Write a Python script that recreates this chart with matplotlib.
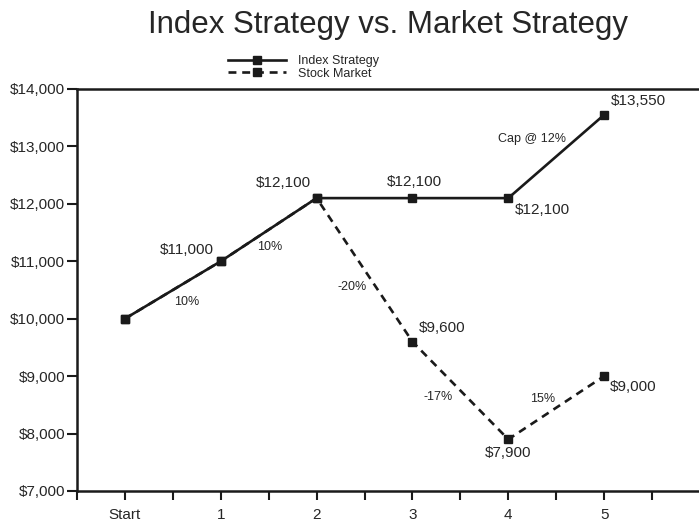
import numpy as np
import matplotlib
matplotlib.use('Agg')
import matplotlib.pyplot as plt
from matplotlib.ticker import FuncFormatter

# Data
years = ['Start', '1', '2', '3', '4', '5']
index_values = [10000, 11000, 12100, 12100, 12100, 13550]
market_values = [10000, 11000, 12100, 9600, 7900, 9000]
index_returns = ['10%', '10%', '', '', 'Cap @ 12%']
market_returns = ['', '', '-20%', '-17%', '15%']

# Label placement (offset in pixels from the point / segment midpoint)
index_label_offsets = {1: (-34, 11), 2: (-33, 15), 3: (2, 16), 4: (34, -12), 5: (34, 14)}
market_label_offsets = {3: (30, 14), 4: (0, -14), 5: (29, -11)}
index_return_offsets = {0: (14, -12), 1: (1, -17), 4: (-24, 17)}
market_return_offsets = {2: (-12, -17), 3: (-22, -7), 4: (-14, 9)}

plt.rcParams['font.family'] = ['Liberation Sans', 'DejaVu Sans']
ink = '#1a1a1a'
text_col = '#262626'


def money(v, pos=None):
    return f'${v:,.0f}'


def main():
    fig = plt.figure(figsize=(6.99, 5.27), dpi=100)
    ax = fig.add_axes([77 / 699, 36 / 527, 622 / 699, 402 / 527])

    x = np.arange(len(years))

    # Market first so the solid index line covers the shared part
    ax.plot(x, market_values, color=ink, lw=1.9, ls=(0, (3, 2.2)),
            marker='s', ms=6, mfc=ink, mec=ink, label='Stock Market', zorder=2)
    ax.plot(x, index_values, color=ink, lw=1.9, marker='s', ms=6,
            mfc=ink, mec=ink, label='Index Strategy', zorder=3)

    # Point value labels
    for i, (dx, dy) in index_label_offsets.items():
        ax.annotate(money(index_values[i]), (x[i], index_values[i]),
                    xytext=(dx, dy), textcoords='offset pixels',
                    ha='center', va='center', fontsize=11, color=text_col)
    for i, (dx, dy) in market_label_offsets.items():
        ax.annotate(money(market_values[i]), (x[i], market_values[i]),
                    xytext=(dx, dy), textcoords='offset pixels',
                    ha='center', va='center', fontsize=11, color=text_col)

    # Segment return labels
    for i, (dx, dy) in index_return_offsets.items():
        mid = ((x[i] + x[i + 1]) / 2, (index_values[i] + index_values[i + 1]) / 2)
        ax.annotate(index_returns[i], mid, xytext=(dx, dy),
                    textcoords='offset pixels', ha='center', va='center',
                    fontsize=9, color=text_col)
    for i, (dx, dy) in market_return_offsets.items():
        mid = ((x[i] + x[i + 1]) / 2, (market_values[i] + market_values[i + 1]) / 2)
        ax.annotate(market_returns[i], mid, xytext=(dx, dy),
                    textcoords='offset pixels', ha='center', va='center',
                    fontsize=9, color=text_col)

    # Axes
    ax.set_xlim(-0.5, 5.99)
    ax.set_ylim(7000, 14000)
    ticks = np.arange(-0.5, 5.6, 0.5)
    ax.set_xticks(ticks)
    ax.set_xticklabels([years[int(t)] if t % 1 == 0 else '' for t in ticks])
    ax.set_yticks(np.arange(7000, 14001, 1000))
    ax.yaxis.set_major_formatter(FuncFormatter(money))
    ax.tick_params(axis='x', length=6.5, width=1.5, pad=6, labelsize=11,
                   colors=ink, labelcolor=text_col)
    ax.tick_params(axis='y', length=7, width=1.5, pad=1.5, labelsize=11,
                   colors=ink, labelcolor=text_col)
    for side in ['left', 'bottom', 'top']:
        ax.spines[side].set_linewidth(1.8)
        ax.spines[side].set_color(ink)
    ax.spines['right'].set_visible(False)

    # Title and legend
    fig.text(388 / 699, 1 - 33 / 527, 'Index Strategy vs. Market Strategy',
             ha='center', va='baseline', fontsize=22.5, color=text_col)

    handles, labels = ax.get_legend_handles_labels()
    fig.legend(handles[::-1], labels[::-1],
               loc='upper left', bbox_to_anchor=(228 / 699, 1 - 55 / 527),
               frameon=False, fontsize=9, handlelength=4.6, handletextpad=1.0,
               labelspacing=0.05, borderpad=0, borderaxespad=0, numpoints=1,
               labelcolor=text_col)

    plt.savefig('out.png', dpi=100)


if __name__ == '__main__':
    main()
